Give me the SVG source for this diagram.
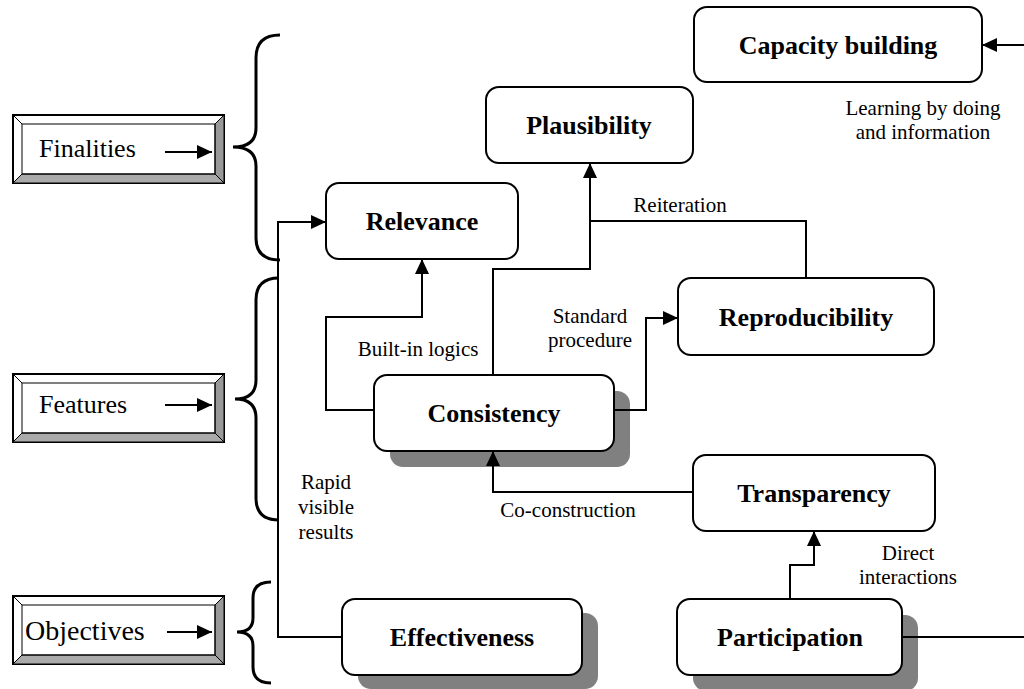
<svg xmlns="http://www.w3.org/2000/svg" width="1024" height="689" viewBox="0 0 1024 689">
<style>
.box{fill:#fff;stroke:#000;stroke-width:2}
.sh{fill:#808080}
.nt{font-family:"Liberation Serif",serif;font-weight:bold;font-size:26px;text-anchor:middle;fill:#000}
.lb{font-family:"Liberation Serif",serif;font-size:21px;text-anchor:middle;fill:#000}
.bt{font-family:"Liberation Serif",serif;font-size:26px;fill:#000}
.ln{fill:none;stroke:#000;stroke-width:2}
.br{fill:none;stroke:#000;stroke-width:3}
.bo{fill:#fff;stroke:#000;stroke-width:2}
.bi{fill:none;stroke:#000;stroke-width:1}
.bd{fill:#999;stroke:#000;stroke-width:1}
.bl{fill:#aaa;stroke:#000;stroke-width:1}
</style>
<defs>
<marker id="ah" markerWidth="15" markerHeight="14" refX="15" refY="7" orient="auto" markerUnits="userSpaceOnUse"><path d="M0,0 L15,7 L0,14 z" fill="#000"/></marker>
</defs>
<rect width="1024" height="689" fill="#fff"/>

<g id="finalities">
<rect class="bo" x="13" y="115" width="211" height="68"/>
<polygon class="bd" points="224,115 224,183 215,174 215,124"/>
<polygon class="bl" points="13,183 224,183 215,174 22,174"/>
<line class="bi" x1="13" y1="115" x2="22" y2="124"/>
<rect class="bi" x="22" y="124" width="193" height="50"/>
<text class="bt" x="39" y="157">Finalities</text>
<line class="ln" x1="165" y1="152" x2="212" y2="152" marker-end="url(#ah)"/>
</g>
<g id="features">
<rect class="bo" x="13" y="374" width="211" height="68"/>
<polygon class="bd" points="224,374 224,442 215,433 215,383"/>
<polygon class="bl" points="13,442 224,442 215,433 22,433"/>
<line class="bi" x1="13" y1="374" x2="22" y2="383"/>
<rect class="bi" x="22" y="383" width="193" height="50"/>
<text class="bt" x="39" y="413">Features</text>
<line class="ln" x1="165" y1="405" x2="212" y2="405" marker-end="url(#ah)"/>
</g>
<g id="objectives">
<rect class="bo" x="13" y="596" width="211" height="68"/>
<polygon class="bd" points="224,596 224,664 215,655 215,605"/>
<polygon class="bl" points="13,664 224,664 215,655 22,655"/>
<line class="bi" x1="13" y1="596" x2="22" y2="605"/>
<rect class="bi" x="22" y="605" width="193" height="50"/>
<text class="bt" x="25" y="640" style="font-size:28px">Objectives</text>
<line class="ln" x1="167" y1="632" x2="212" y2="632" marker-end="url(#ah)"/>
</g>

<g id="braces">
<path class="br" d="M280,35 Q256,35 256,58 L256,128 Q256,147 233,147 Q256,147 256,166 L256,238 Q256,260 280,260"/>
<path class="br" d="M279,278 Q256,278 256,300 L256,380 Q256,399 235,399 Q256,399 256,418 L256,498 Q256,520 279,520"/>
<path class="br" d="M271,582 Q253,582 253,598 L253,618 Q253,632 237,632 Q253,632 253,646 L253,667 Q253,683 271,683"/>
</g>

<g id="capacity-building">
<rect class="box" x="694" y="7" width="288" height="75" rx="13"/>
<text class="nt" x="838" y="54">Capacity building</text>
</g>
<g id="plausibility">
<rect class="box" x="486" y="87" width="207" height="76" rx="13"/>
<text class="nt" x="589" y="134">Plausibility</text>
</g>
<g id="relevance">
<rect class="box" x="326" y="183" width="192" height="76" rx="13"/>
<text class="nt" x="422" y="230">Relevance</text>
</g>
<g id="reproducibility">
<rect class="box" x="678" y="278" width="256" height="77" rx="13"/>
<text class="nt" x="806" y="326">Reproducibility</text>
</g>
<g id="consistency">
<rect class="sh" x="390" y="391" width="240" height="76" rx="13"/>
<rect class="box" x="374" y="375" width="240" height="76" rx="13"/>
<text class="nt" x="494" y="422">Consistency</text>
</g>
<g id="transparency">
<rect class="box" x="693" y="455" width="242" height="76" rx="13"/>
<text class="nt" x="814" y="502">Transparency</text>
</g>
<g id="effectiveness">
<rect class="sh" x="358" y="613" width="240" height="76" rx="13"/>
<rect class="box" x="342" y="599" width="240" height="76" rx="13"/>
<text class="nt" x="462" y="646">Effectiveness</text>
</g>
<g id="participation">
<rect class="sh" x="693" y="615" width="225" height="76" rx="13"/>
<rect class="box" x="677" y="599" width="225" height="76" rx="13"/>
<text class="nt" x="790" y="646">Participation</text>
</g>

<g id="connectors">
<path class="ln" d="M342,637 L278,637 L278,222 L326,222" marker-end="url(#ah)"/>
<path class="ln" d="M374,410 L326,410 L326,317 L422,317 L422,259" marker-end="url(#ah)"/>
<path class="ln" d="M493,375 L493,269 L590,269 L590,163" marker-end="url(#ah)"/>
<path class="ln" d="M806,278 L806,221 L590,221"/>
<path class="ln" d="M614,410 L646,410 L646,318 L678,318" marker-end="url(#ah)"/>
<path class="ln" d="M693,492 L493,492 L493,451" marker-end="url(#ah)"/>
<path class="ln" d="M790,599 L790,565 L814,565 L814,531" marker-end="url(#ah)"/>
<path class="ln" d="M902,637 L1024,637"/>
<path class="ln" d="M1024,45 L982,45" marker-end="url(#ah)"/>
<text class="lb" x="923" y="115">Learning by doing</text>
<text class="lb" x="923" y="139">and information</text>
<text class="lb" x="680" y="212">Reiteration</text>
<text class="lb" x="418" y="356">Built-in logics</text>
<text class="lb" x="590" y="323">Standard</text>
<text class="lb" x="590" y="347">procedure</text>
<text class="lb" x="568" y="517">Co-construction</text>
<text class="lb" x="908" y="560">Direct</text>
<text class="lb" x="908" y="584">interactions</text>
<text class="lb" x="326" y="489">Rapid</text>
<text class="lb" x="326" y="514">visible</text>
<text class="lb" x="326" y="539">results</text>
</g>
</svg>
